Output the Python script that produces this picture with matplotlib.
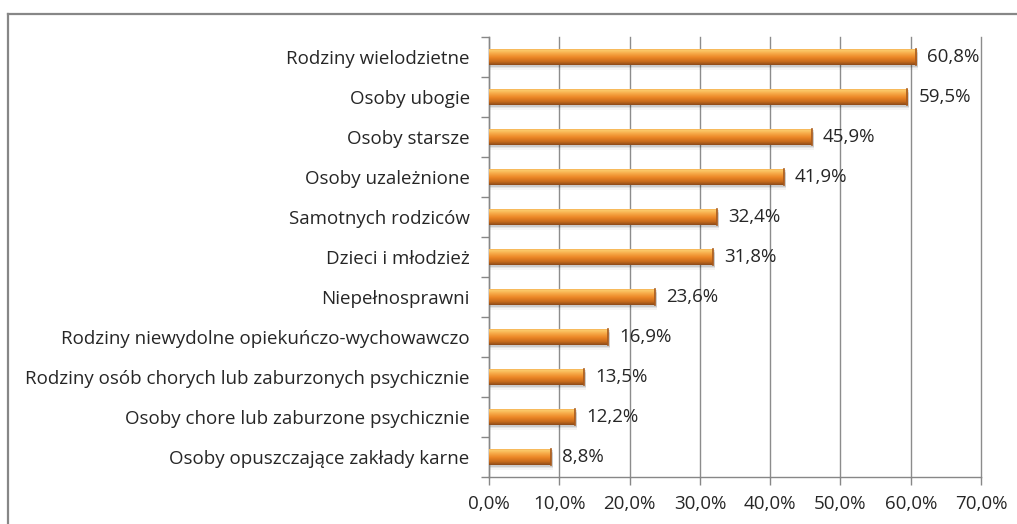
import numpy as np
import matplotlib.pyplot as plt
from matplotlib.colors import LinearSegmentedColormap
from matplotlib.ticker import FixedLocator
from matplotlib.lines import Line2D

categories = [
    'Rodziny wielodzietne',
    'Osoby ubogie',
    'Osoby starsze',
    'Osoby uzależnione',
    'Samotnych rodziców',
    'Dzieci i młodzież',
    'Niepełnosprawni',
    'Rodziny niewydolne opiekuńczo-wychowawczo',
    'Rodziny osób chorych lub zaburzonych psychicznie',
    'Osoby chore lub zaburzone psychicznie',
    'Osoby opuszczające zakłady karne',
]
values = [60.8, 59.5, 45.9, 41.9, 32.4, 31.8, 23.6, 16.9, 13.5, 12.2, 8.8]
xticks = [0, 10, 20, 30, 40, 50, 60, 70]

plt.rcParams['font.family'] = ['Open Sans', 'DejaVu Sans']
fs = 13.5

fig = plt.figure(figsize=(10.17, 5.24), dpi=100)
ax = fig.add_axes([0.481, 0.0897, 0.4836, 0.8397])

# frame around chart (cropped at right and bottom)
fig.add_artist(Line2D([8 / 1017, 8 / 1017], [0, 1 - 14 / 524], color='#878787', lw=1.6,
                      transform=fig.transFigure))
fig.add_artist(Line2D([8 / 1017, 1], [1 - 14 / 524, 1 - 14 / 524], color='#878787', lw=1.6,
                      transform=fig.transFigure))

n = len(categories)
ypos = np.arange(n)[::-1]
h = 0.42

# gradient: top light -> orange -> dark brown bottom
grad = LinearSegmentedColormap.from_list('bar', [
    (0.0, '#EE9A3C'), (0.12, '#FCCB6C'), (0.3, '#F7AC4A'),
    (0.55, '#EC8626'), (0.8, '#C86B1B'), (1.0, '#8C4A18')])
g = np.linspace(0, 1, 64).reshape(-1, 1)

# shadow
for y, v in zip(ypos, values):
    for k, a in enumerate([0.10, 0.07, 0.04]):
        ax.barh(y - 0.04 - 0.035 * k, v + 0.3, height=h, color='black', alpha=a,
                lw=0, zorder=2)

bars = ax.barh(ypos, values, height=h, color='#EC8626', lw=0, zorder=3)
for b in bars:
    x0, y0 = b.get_x(), b.get_y()
    w, hh = b.get_width(), b.get_height()
    im = ax.imshow(g, cmap=grad, aspect='auto', extent=[x0, x0 + w, y0, y0 + hh],
                   origin='upper', zorder=4, interpolation='bilinear')
    im.set_clip_path(b)
    ax.plot([x0 + w, x0 + w], [y0, y0 + hh], color='#A85A1C', lw=1.2, zorder=5)

for y, v in zip(ypos, values):
    ax.annotate(f'{v:.1f}%'.replace('.', ','), (v, y), xytext=(8, 0),
                textcoords='offset points', va='center', ha='left', fontsize=fs,
                color='#262626', zorder=6)

ax.set_xlim(0, 70)
ax.set_ylim(-0.5, n - 0.5)
ax.set_xticks(xticks)
ax.set_xticklabels([f'{t:.1f}%'.replace('.', ',') for t in xticks], fontsize=fs,
                   color='#262626')
ax.set_yticks(ypos)
ax.set_yticklabels(categories, fontsize=fs, color='#262626')
ax.yaxis.set_minor_locator(FixedLocator(np.arange(-0.5, n, 1)))
ax.tick_params(axis='y', which='major', length=0, pad=14)
ax.tick_params(axis='y', which='minor', length=6, color='#878787', width=1)
ax.tick_params(axis='x', length=6, color='#878787', width=1, pad=7)
ax.grid(axis='x', color='#8C8C8C', lw=1, zorder=0)
for gl in ax.get_xgridlines():
    gl.set_clip_on(False)
ax.set_axisbelow(True)
for s in ['top', 'right']:
    ax.spines[s].set_visible(False)
for s in ['left', 'bottom']:
    ax.spines[s].set_color('#878787')
    ax.spines[s].set_linewidth(1)

fig.savefig('out.png', dpi=100)
